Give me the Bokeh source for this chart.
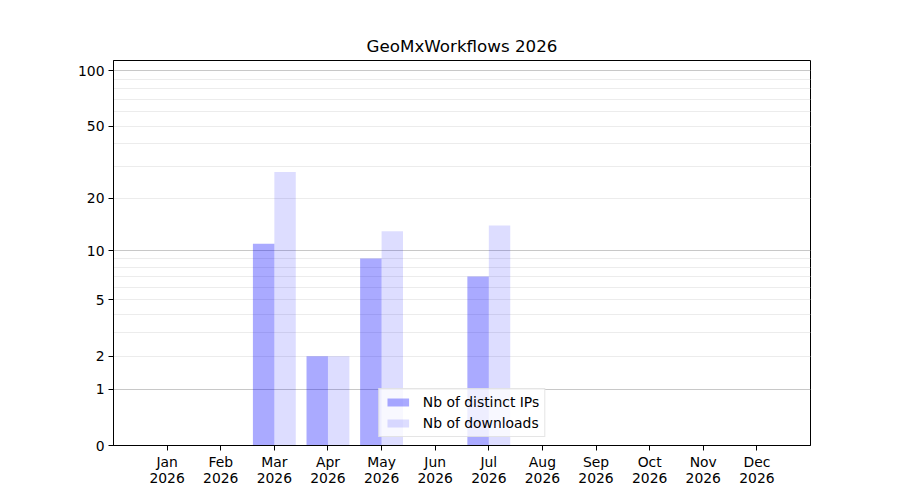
from bokeh.plotting import figure
from bokeh.models import (ColumnDataSource, FixedTicker, Range1d, Grid, Legend,
                          LegendItem)
from bokeh.embed import file_html
from bokeh.resources import INLINE

# ---- data ----
months = ["Jan", "Feb", "Mar", "Apr", "May", "Jun",
          "Jul", "Aug", "Sep", "Oct", "Nov", "Dec"]
year = "2026"
distinct_ips = [0, 0, 11, 2, 9, 0, 7, 0, 0, 0, 0, 0]
downloads = [0, 0, 28, 2, 13, 0, 14, 0, 0, 0, 0, 0]
ytick_values = [0, 1, 2, 5, 10, 20, 50, 100]
major_grid_values = [1, 10, 100]
minor_grid_values = [2, 3, 4, 5, 6, 7, 8, 9, 20, 30, 40, 50, 60, 70, 80, 90]
y_max = 113.5

FONT = "DejaVu Sans"
BAR_W = 0.4

xs = list(range(len(months)))
src = ColumnDataSource(dict(
    x_ip=[x - BAR_W / 2 for x in xs],
    x_dl=[x + BAR_W / 2 for x in xs],
    ip_top=[v + 1 for v in distinct_ips],      # log(1 + y) scale
    dl_top=[v + 1 for v in downloads],
    bottom=[1] * len(xs),
))

p = figure(width=884, height=492, output_backend="svg", toolbar_location=None,
           y_axis_type="log", x_range=Range1d(-1, 12),
           y_range=Range1d(1, y_max + 1),
           min_border_left=113, min_border_right=74,
           min_border_top=60, min_border_bottom=47,
           title="GeoMxWorkflows 2026")

p.title.align = "center"
p.title.text_font = FONT
p.title.text_font_size = "16.7px"
p.title.text_font_style = "normal"
p.title.text_color = "black"

p.outline_line_color = "black"
p.outline_line_width = 1

# grids
p.xgrid.visible = False
p.ygrid.ticker = FixedTicker(ticks=[v + 1 for v in major_grid_values], minor_ticks=[])
p.ygrid.grid_line_color = "#c8c8c8"
p.ygrid.grid_line_width = 1
minor_grid = Grid(dimension=1, ticker=FixedTicker(ticks=[v + 1 for v in minor_grid_values], minor_ticks=[]),
                  grid_line_color="#ececec", grid_line_width=1)
p.add_layout(minor_grid, "center")

r_ip = p.vbar(x="x_ip", width=BAR_W, top="ip_top", bottom="bottom", source=src,
              fill_color="#0000ff", fill_alpha=0.333, line_color=None)
r_dl = p.vbar(x="x_dl", width=BAR_W, top="dl_top", bottom="bottom", source=src,
              fill_color="#0000ff", fill_alpha=0.133, line_color=None)

# axes
for ax in (p.xaxis, p.yaxis):
    ax.axis_line_color = "black"
    ax.major_tick_line_color = "black"
    ax.major_tick_out = 5
    ax.major_tick_in = 0
    ax.minor_tick_line_color = None
    ax.major_label_text_font = FONT
    ax.major_label_text_font_size = "13.9px"
    ax.major_label_text_color = "black"

p.xaxis.ticker = FixedTicker(ticks=xs, minor_ticks=[])
p.xaxis.major_label_overrides = {x: f"{m}\n{year}" for x, m in zip(xs, months)}
p.xaxis.major_label_standoff = 3
p.xaxis.major_label_text_line_height = 1.0

p.yaxis.ticker = FixedTicker(ticks=[v + 1 for v in ytick_values], minor_ticks=[])
p.yaxis.major_label_overrides = {v + 1: str(v) for v in ytick_values}
p.yaxis.major_label_standoff = 4

legend = Legend(items=[LegendItem(label="Nb of distinct IPs", renderers=[r_ip]),
                       LegendItem(label="Nb of downloads", renderers=[r_dl])],
                location="bottom_center", margin=8, padding=5, spacing=5,
                glyph_width=27, glyph_height=10, label_height=16,
                label_standoff=12, label_text_font=FONT,
                label_text_font_size="13.9px", label_text_color="black",
                border_line_color="#cccccc", background_fill_alpha=0.8)
p.add_layout(legend, "center")

open("out.html", "w").write(file_html(p, INLINE))
